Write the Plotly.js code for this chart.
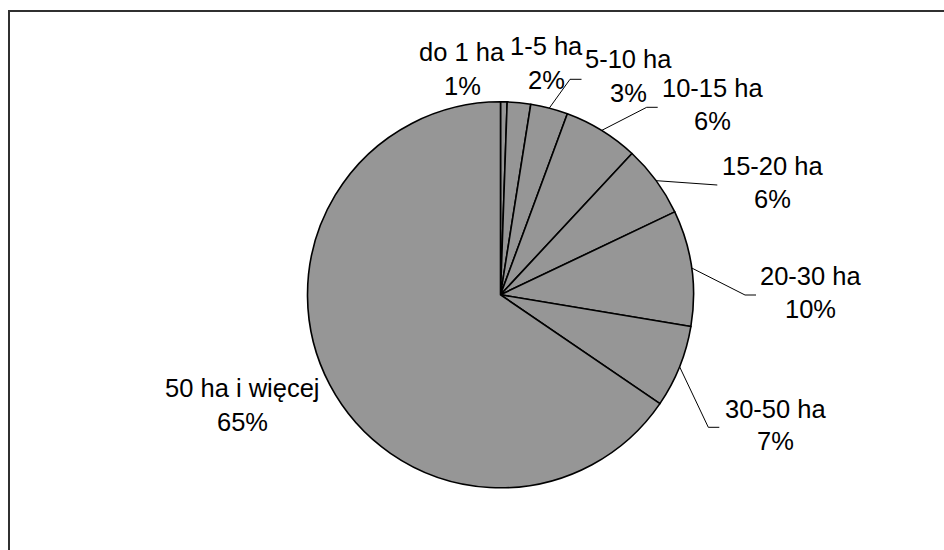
<!DOCTYPE html>
<html>
<head>
<meta charset="utf-8">
<script src="https://cdn.plot.ly/plotly-3.0.1.min.js"></script>
<style>html,body{margin:0;padding:0;background:#fff;overflow:hidden;}#chart{width:944px;height:550px;}</style>
</head>
<body>
<div id="chart"></div>
<script>
// ---- data ----
const categories = ['do 1 ha', '1-5 ha', '5-10 ha', '10-15 ha', '15-20 ha', '20-30 ha', '30-50 ha', '50 ha i więcej'];
const shares = [0.55, 1.96, 3.12, 6.3, 6.0, 9.7, 6.9, 65.47];

// ---- layout constants (pixels) ----
const W = 944, H = 550;
const CX = 500.5, CY = 294.8, R = 193;
const FONT = {family: 'Liberation Sans, Arial, sans-serif', size: 25.5, color: '#000'};
// label placement: center x, baseline of name line, baseline of percent line, leader end / elbow
const labelPos = [
  {cx: 462,   b1: 61,    b2: 95},
  {cx: 546,   b1: 54.5,  b2: 89},
  {cx: 628,   b1: 68,    b2: 101.7, end: [581.5, 79.3], elbow: [570, 79.3]},
  {cx: 712,   b1: 96.7,  b2: 130,   end: [657.7, 107.3], elbow: [646.7, 107.3]},
  {cx: 772,   b1: 175,   b2: 208,   end: [717.3, 185]},
  {cx: 810.5, b1: 285,   b2: 318,   end: [756, 295], elbow: [745, 295]},
  {cx: 775,   b1: 418,   b2: 450,   end: [719.3, 427.3], elbow: [708.3, 427.3]},
  {cx: 243,   b1: 396.7, b2: 430.7}
];

const px = x => x / W;
const py = y => 1 - y / H;

const total = shares.reduce((a, b) => a + b, 0);
const annotations = [];
const shapes = [];
let cum = 0;
const baseOff = 0.348 * FONT.size;
shares.forEach((v, i) => {
  const p = labelPos[i];
  const pct = Math.round(v / total * 100) + '%';
  annotations.push({xref: 'paper', yref: 'paper', x: px(p.cx), y: py(p.b1 - baseOff),
    xanchor: 'center', yanchor: 'middle', showarrow: false, text: categories[i], font: FONT});
  annotations.push({xref: 'paper', yref: 'paper', x: px(p.cx), y: py(p.b2 - baseOff),
    xanchor: 'center', yanchor: 'middle', showarrow: false, text: pct, font: FONT});
  const mid = 2 * Math.PI * (cum + v / 2) / total;
  if (p.end) {
    const sx = CX + R * Math.sin(mid), sy = CY - R * Math.cos(mid);
    let path = 'M ' + px(sx) + ' ' + py(sy);
    if (p.elbow) path += ' L ' + px(p.elbow[0]) + ' ' + py(p.elbow[1]);
    path += ' L ' + px(p.end[0]) + ' ' + py(p.end[1]);
    shapes.push({type: 'path', xref: 'paper', yref: 'paper', path: path,
      line: {color: '#000', width: 1}});
  }
  cum += v;
});

// outer frame: only its left and top edges are inside the picture
shapes.push({type: 'path', xref: 'paper', yref: 'paper',
  path: 'M ' + px(9) + ' ' + py(H + 30) + ' L ' + px(9) + ' ' + py(11) + ' L ' + px(W + 30) + ' ' + py(11),
  line: {color: '#303030', width: 2}, layer: 'above'});

const trace = {
  type: 'pie',
  labels: categories,
  values: shares,
  sort: false,
  direction: 'clockwise',
  rotation: 0,
  textinfo: 'none',
  hoverinfo: 'none',
  showlegend: false,
  marker: {colors: categories.map(() => '#969696'), line: {color: '#000', width: 1.6}},
  domain: {x: [px(CX - R), px(CX + R)], y: [py(CY + R), py(CY - R)]}
};

Plotly.newPlot('chart', [trace], {
  width: W, height: H,
  margin: {l: 0, r: 0, t: 0, b: 0},
  paper_bgcolor: '#fff',
  showlegend: false,
  annotations: annotations,
  shapes: shapes
}, {staticPlot: true});
</script>
</body>
</html>
